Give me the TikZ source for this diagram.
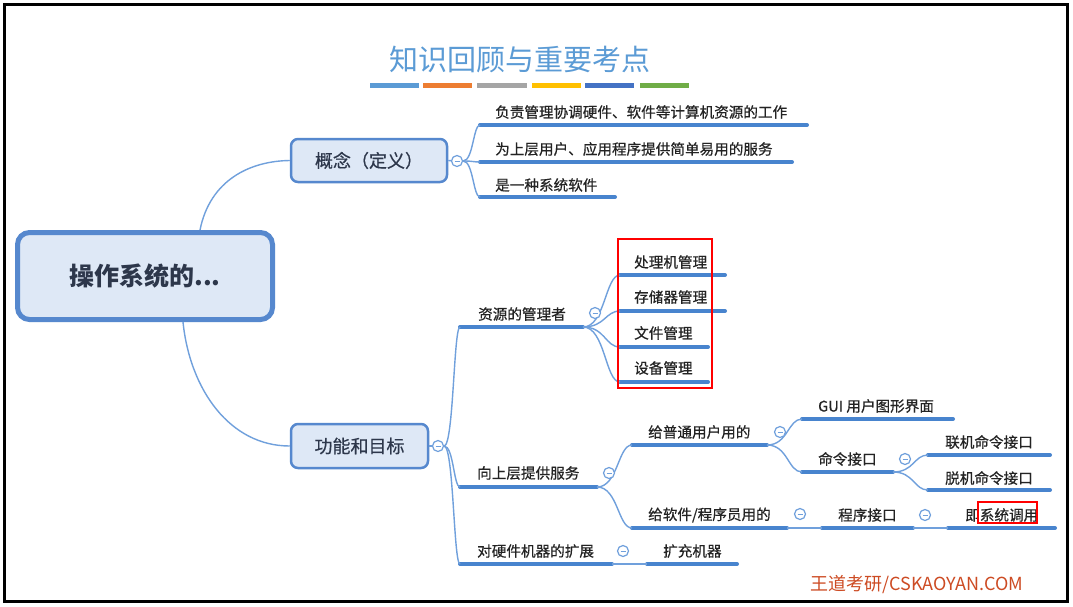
\documentclass[tikz,border=0pt]{standalone}
\usepackage{fontspec}
\setmainfont{Noto Sans CJK SC}
\newfontfamily\mmfont{Noto Sans CJK SC}[FakeBold=0.6]
\usetikzlibrary{calc}
\definecolor{ulblue}{RGB}{72,132,206}
\definecolor{cnblue}{RGB}{112,160,220}
\definecolor{nodefill}{RGB}{222,232,246}
\definecolor{nodeline}{RGB}{86,136,206}
\definecolor{txt}{RGB}{35,35,35}
\definecolor{ntxt}{RGB}{45,55,75}
\definecolor{ttl}{RGB}{91,155,213}
\definecolor{barA}{RGB}{91,155,213}
\definecolor{barB}{RGB}{237,125,49}
\definecolor{barC}{RGB}{165,165,165}
\definecolor{barD}{RGB}{255,192,0}
\definecolor{barE}{RGB}{68,114,196}
\definecolor{barF}{RGB}{112,173,71}
\definecolor{wm}{RGB}{205,75,35}
\newcommand\mmleaf[7]{%
  \node[lbl] (#1) at (#2,#3) {#7};
  \coordinate (#1s) at (#5,#4);
  \coordinate (#1e) at (#6,#4);
  \draw[under] (#1s) -- (#1e);
}
\tikzset{
  under/.style={line width=4pt, draw=ulblue, line cap=round},
  conn/.style={line width=1.4pt, draw=cnblue},
  lbl/.style={anchor=west, inner sep=0pt, font=\mmfont\fontsize{14.6}{16}\selectfont, text=txt},
  topic/.style={draw=nodeline, fill=nodefill, line width=2.5pt, rounded corners=7pt, text=ntxt, font=\mmfont\fontsize{18}{20}\selectfont, inner sep=0pt},
  fold/.style={circle, draw=cnblue, fill=white, line width=1.2pt, minimum size=11pt, inner sep=0pt,
    path picture={\draw[cnblue, line width=0.9pt] ([xshift=-2.5pt]path picture bounding box.center) -- ([xshift=2.5pt]path picture bounding box.center);}},
  branch/.style={to path={let \p1=(\tikztostart), \p2=(\tikztotarget) in
    .. controls ({0.4*\x1+0.6*\x2},\y1) and ({0.4*\x1+0.6*\x2},\y2) .. (\tikztotarget)}},
  redbox/.style={draw=red, line width=2.5pt},
}
\begin{document}
\begin{tikzpicture}[x=1pt, y=-1pt]
\useasboundingbox (0,0) rectangle (1073,606);
\fill[white] (0,0) rectangle (1073,606);
\draw[line width=3pt] (4.5,4.5) rectangle (1067,601);

% title
\node[text=ttl, font=\fontsize{29}{32}\selectfont, inner sep=0pt] (title) at (520,60) {知识回顾与重要考点};
\fill[barA] (370,83) rectangle (419,88);
\fill[barB] (423,83) rectangle (472,88);
\fill[barC] (477,83) rectangle (527,88);
\fill[barD] (532,83) rectangle (581,88);
\fill[barE] (585,83) rectangle (634,88);
\fill[barF] (640,83) rectangle (689,88);

% root and main topics
\node[draw=nodeline, fill=nodefill, line width=5pt, rounded corners=12pt, minimum width=255pt, minimum height=87pt,
  text=ntxt, font=\bfseries\fontsize{25}{28}\selectfont] (R) at (145,276) {操作系统的...};
\node[topic, minimum width=156pt, minimum height=43pt] (A) at (369,160.5) {概念（定义）};
\node[topic, minimum width=137pt, minimum height=44pt] (B) at (359.5,446) {功能和目标};

\coordinate (Rt) at (200,230);
\coordinate (Rb) at (183,322);
\draw[conn] (Rt) .. controls (210,180) and (250,161) .. (A.west);
\draw[conn] (Rb) .. controls (190,390) and (230,446) .. (B.west);

% concept leaves
\node[fold] (fA) at (457,161) {};
\draw[conn] (A.east) -- (fA);
\mmleaf{A1}{495}{112}{125}{480}{807}{负责管理协调硬件、软件等计算机资源的工作}
\mmleaf{A2}{495}{149}{162}{480}{792}{为上层用户、应用程序提供简单易用的服务}
\mmleaf{A3}{495}{185}{197}{480}{615}{是一种系统软件}
\draw[conn] (fA.east) to[branch] (A1s);
\draw[conn] (fA.east) to[branch] (A2s);
\draw[conn] (fA.east) to[branch] (A3s);

% function leaves
\node[fold] (fB) at (438,446) {};
\draw[conn] (B.east) -- (fB);
\mmleaf{B1}{478}{314}{327}{460}{583}{资源的管理者}
\mmleaf{B2}{477}{473}{487}{460}{597}{向上层提供服务}
\mmleaf{B3}{477}{551}{564}{460}{612}{对硬件机器的扩展}
\draw[conn] (fB.east) to[branch] (B1s);
\draw[conn] (fB.east) to[branch] (B2s);
\draw[conn] (fB.east) to[branch] (B3s);

% resource manager
\mmleaf{Ba}{634}{262}{275}{620}{725}{处理机管理}
\mmleaf{Bb}{634}{297}{311}{620}{725}{存储器管理}
\mmleaf{Bc}{634}{333}{347}{620}{708}{文件管理}
\mmleaf{Bd}{634}{368}{382}{620}{708}{设备管理}
\draw[conn] (B1e) to[branch] (Bas);
\draw[conn] (B1e) to[branch] (Bbs);
\draw[conn] (B1e) to[branch] (Bcs);
\draw[conn] (B1e) to[branch] (Bds);
\node[fold] (fB1) at (595,313) {};
\draw[redbox] (618,239) rectangle (712,388);

% services
\mmleaf{Ca}{648}{432}{445}{632}{767}{给普通用户用的}
\mmleaf{Cb}{648}{515}{528}{632}{787}{给软件/程序员用的}
\draw[conn] (B2e) to[branch] (Cas);
\draw[conn] (B2e) to[branch] (Cbs);
\node[fold] (fB2) at (609,473) {};

\mmleaf{Da}{818}{406}{419}{802}{953}{GUI 用户图形界面}
\mmleaf{Db}{818}{459}{472}{802}{893}{命令接口}
\draw[conn] (Cae) to[branch] (Das);
\draw[conn] (Cae) to[branch] (Dbs);
\node[fold] (fCa) at (780,432) {};

\mmleaf{Ea}{945}{442}{455}{928}{1050}{联机命令接口}
\mmleaf{Eb}{945}{478}{490}{928}{1050}{脱机命令接口}
\draw[conn] (Dbe) to[branch] (Eas);
\draw[conn] (Dbe) to[branch] (Ebs);
\node[fold] (fDb) at (905,459) {};

\mmleaf{Fa}{838}{515}{528}{822}{913}{程序接口}
\draw[conn] (Cbe) -- (Fas);
\node[fold] (fCb) at (800,514) {};
\mmleaf{Ga}{965}{515}{528}{948}{1055}{即系统调用}
\draw[conn] (Fae) -- (Gas);
\node[fold] (fFa) at (925,515) {};
\draw[redbox] (978,502) rectangle (1037,523);

% extension
\mmleaf{Ha}{663}{551}{564}{647}{737}{扩充机器}
\draw[conn] (B3e) -- (Has);
\node[fold] (fB3) at (623,551) {};

% footer
\node[text=wm, font=\fontsize{18}{20}\selectfont, inner sep=0pt] (foot) at (917,585) {王道考研/CSKAOYAN.COM};
\end{tikzpicture}
\end{document}
